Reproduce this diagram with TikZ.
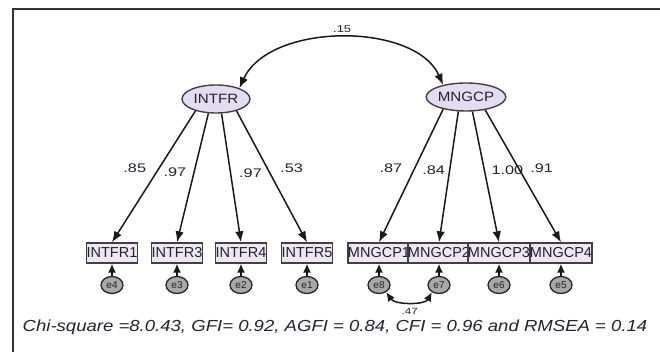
\documentclass[tikz,border=0pt]{standalone}
\usepackage{fontspec}
\setmainfont{Liberation Sans}
\newfontfamily\widefont[FakeStretch=1.3]{Liberation Sans}
\newfontfamily\namefont[FakeStretch=1.12]{Liberation Sans}
\newfontfamily\notefont[FakeStretch=1.16]{Liberation Sans}
\usetikzlibrary{arrows.meta,shapes.geometric}
\definecolor{latfill}{HTML}{E4DCF0}
\definecolor{obsfill}{HTML}{EEE6F4}
\definecolor{errfill}{HTML}{A8A8A8}
\definecolor{inkc}{HTML}{23222E}
\begin{document}
\begin{tikzpicture}[x=1pt,y=-1pt,
  latent/.style={ellipse, draw=black!75, line width=1.4pt, fill=latfill,
    minimum width=68pt, minimum height=28pt, inner sep=0pt, text=inkc,
    font=\namefont\fontsize{13.5}{13.5}\selectfont},
  obs/.style={rectangle, draw=black!75, line width=1.4pt, fill=obsfill,
    minimum width=49pt, minimum height=20pt, inner sep=0pt, text=inkc,
    font=\fontsize{14.5}{14.5}\selectfont},
  err/.style={ellipse, draw=black!85, line width=1.3pt, fill=errfill,
    minimum width=22pt, minimum height=17pt, inner sep=0pt, text=inkc,
    font=\fontsize{10}{10}\selectfont},
  load/.style={-{Latex[length=11pt,width=8.5pt]}, line width=1.5pt, black!90},
  errarrow/.style={-{Latex[length=9pt,width=8pt]}, line width=1.5pt, black!90},
  cov/.style={{Latex[length=11pt,width=8.5pt]}-{Latex[length=11pt,width=8.5pt]}, line width=1.5pt, black!90},
  lbl/.style={font=\widefont\fontsize{12.5}{12.5}\selectfont, inner sep=0pt, text=inkc},
]
\useasboundingbox (0,0) rectangle (660,352);

% frame
\draw[line width=1.8pt, black!80] (13,352) -- (13,9) -- (660,9);

% latent factors
\node[latent] (intfr) at (216,99) {INTFR};
\node[latent, minimum width=66pt] (mngcp) at (466,97) {MNGCP};

% indicators
\foreach \n/\x in {1/112,3/177,4/241,5/307}
  \node[obs] (i\n) at (\x,253) {INTFR\n};
\foreach \n/\x in {1/379,2/439,3/499,4/561}
  \node[obs] (m\n) at (\x,253) {MNGCP\n};

% error terms
\foreach \e/\x in {4/112,3/177,2/241,1/307,8/379,7/439,6/499,5/561}
  \node[err] (e\e) at (\x,285) {e\e};

\foreach \e/\b in {4/i1,3/i3,2/i4,1/i5,8/m1,7/m2,6/m3,5/m4}
  \draw[errarrow] (e\e) -- (\b);

% loadings
\draw[load] (intfr.210) -- (i1.north) node[lbl, pos=0.44, xshift=-24pt] {.85};
\draw[load] (intfr.242) -- (i3.north) node[lbl, pos=0.46, xshift=-19pt] {.97};
\draw[load] (intfr.291) -- (i4.north) node[lbl, pos=0.46, xshift=20pt] {.97};
\draw[load] (intfr.330) -- (i5.north) node[lbl, pos=0.44, xshift=24pt] {.53};

\draw[load] (mngcp.208) -- (m1.north) node[lbl, pos=0.44, xshift=-24pt] {.87};
\draw[load] (mngcp.242) -- (m2.north) node[lbl, pos=0.45, xshift=-16pt] {.84};
\draw[load] (mngcp.294) -- (m3.north) node[lbl, pos=0.45, xshift=23pt] {1.00};
\draw[load] (mngcp.326) -- (m4.north) node[lbl, pos=0.44, xshift=23pt] {.91};

% covariances
\draw[cov] (intfr.25) .. controls (270,22) and (415,22) .. (mngcp.152)
  node[lbl, pos=0.5, yshift=9pt, font=\widefont\fontsize{10}{10}\selectfont] {.15};
\draw[cov, {Latex[length=9pt,width=8pt]}-{Latex[length=9pt,width=8pt]}]
  (e8.-45) .. controls (395,305) and (425,305) .. (e7.225)
  node[lbl, pos=0.5, yshift=-10pt, font=\widefont\fontsize{9}{9}\selectfont] {.47};

% fit indices
\node[font=\notefont\itshape\fontsize{16}{16}\selectfont, text=inkc, inner sep=0pt]
  (fit) at (335,327) {Chi-square =8.0.43, GFI= 0.92, AGFI = 0.84, CFI = 0.96 and RMSEA = 0.14};
\end{tikzpicture}
\end{document}
